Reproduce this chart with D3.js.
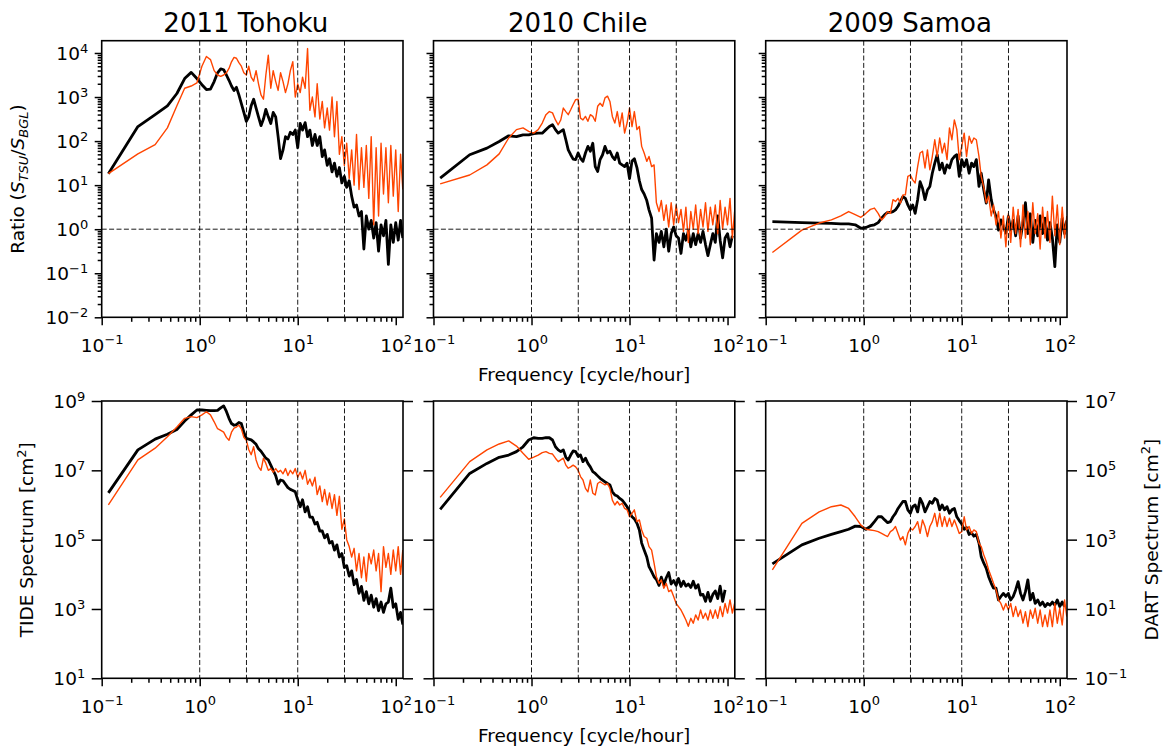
<!DOCTYPE html>
<html>
<head>
<meta charset="utf-8">
<script src="https://cdn.jsdelivr.net/npm/d3@7"></script>
<style>
  body { margin: 0; background: #fff; }
  svg { display: block; font-family: "DejaVu Sans", sans-serif; }
</style>
</head>
<body>
<svg id="fig" width="1164" height="749"></svg>
<script>
// frequency bins [cycle/hour]
const freq = [0.117, 0.234, 0.351, 0.468, 0.585, 0.702, 0.819, 0.936, 1.053, 1.17, 1.287, 1.404, 1.521, 1.638, 1.755, 1.872, 1.989,
  2.11, 2.24, 2.37, 2.51, 2.66, 2.82, 2.99, 3.16, 3.35, 3.55, 3.76, 3.98, 4.22, 4.47, 4.73, 5.01, 5.31, 5.62, 5.96, 6.31,
  6.68, 7.08, 7.50, 7.94, 8.41, 8.91, 9.44, 10.0, 10.6, 11.2, 11.9, 12.6, 13.3, 14.1, 15.0, 15.8, 16.8, 17.8, 18.8, 20.0, 21.1, 22.4, 23.7, 25.1, 26.6, 28.2, 29.9, 31.6, 33.5,
  35.5, 37.6, 39.8, 42.2, 44.7, 47.3, 50.1, 53.1, 56.2, 59.6, 63.1, 66.8, 70.8, 75.0, 79.4, 84.1, 89.1, 94.4, 100, 106, 112, 118];

const events = ['2011 Tohoku', '2010 Chile', '2009 Samoa'];
const guideFreq = [1, 3, 10, 30];
const xTicks = [0.1, 1, 10, 100];
const ratioTicks = [1e-2, 1e-1, 1e0, 1e1, 1e2, 1e3, 1e4];
const tideTicks = [1e1, 1e3, 1e5, 1e7, 1e9];
const dartTicks = [1e-1, 1e1, 1e3, 1e5, 1e7];

// all series below are log10 values, one per freq bin
// black = tide gauge, orange = DART
const tohokuTideRatio = [1.26, 2.33, 2.6, 2.8, 3.08, 3.42, 3.56, 3.42, 3.28, 3.17, 3.18, 3.35, 3.55, 3.64, 3.62, 3.5, 3.38,
  3.25, 3.15, 3.22, 3.05, 2.85, 2.65, 2.45, 2.55, 2.8, 2.95, 2.75, 2.55, 2.35, 2.5, 2.72, 2.55, 2.4, 2.65, 2.55, 2.1,
  1.6, 1.8, 2.1, 2.05, 2.2, 2.15, 2.25, 1.85, 2.4, 2.25, 2.42, 2.1, 2.25, 1.9, 2.15, 1.9, 2.1, 1.65, 1.8, 1.45, 1.6, 1.3, 1.5, 1.2, 1.4, 1.05, 1.2, 0.95, 1.1,
  0.75, 0.5, 0.55, 0.3, 0.4, -0.45, 0.3, 0.0, 0.2, -0.2, 0.15, -0.5, 0.1, -0.15, 0.2, -0.8, 0.1, -0.3, 0.15, -0.25, 0.2, -0.2];
const tohokuDartRatio = [1.26, 1.71, 1.92, 2.3, 2.8, 3.2, 3.25, 3.32, 3.7, 3.92, 3.85, 3.6, 3.5, 3.47, 3.5, 3.55, 3.65,
  3.8, 3.9, 3.88, 3.78, 3.7, 3.55, 3.5, 3.7, 3.45, 3.36, 3.6, 3.3, 3.05, 2.95, 3.5, 3.95, 3.2, 3.6, 3.35, 3.15,
  3.55, 3.35, 3.1, 3.3, 3.6, 3.8, 3.0, 3.3, 3.1, 3.45, 3.2, 4.1, 2.7, 3.0, 2.55, 3.3, 2.5, 2.9, 2.3, 2.75, 2.25, 3.0, 2.1, 2.9, 1.7, 2.1, 1.45, 1.95, 1.15,
  1.8, 1.0, 2.15, 0.9, 1.85, 0.95, 1.9, 0.7, 2.1, 0.1, 1.85, 0.3, 1.95, 0.8, 1.85, 0.6, 1.9, 0.75, 1.8, 0.4, 1.7, 0.9];

const chileTideRatio = [1.16, 1.69, 1.84, 1.99, 2.12, 2.1, 2.14, 2.14, 2.17, 2.18, 2.18, 2.26, 2.33, 2.37, 2.26, 2.18, 2.22,
  2.26, 2.03, 1.8, 1.69, 1.59, 1.58, 1.73, 1.61, 1.54, 1.73, 1.88, 1.77, 1.95, 1.42, 1.31, 1.58, 1.69, 1.88, 1.73, 1.77,
  1.65, 1.58, 1.73, 1.5, 1.46, 1.42, 1.5, 1.15, 1.55, 1.6, 1.4, 1.1, 0.9, 0.8, 0.65, 0.44, 0.25, -0.7, -0.1, -0.3, -0.05, -0.4, 0.0, -0.5, -0.1, 0.05, -0.15, -0.2, -0.55,
  -0.1, -0.25, -0.05, -0.4, -0.1, -0.35, -0.1, -0.3, -0.05, -0.35, -0.6, -0.35, -0.1, -0.3, 0.3, -0.25, -0.65, -0.2, -0.1, -0.4, -0.15, null];
const chileDartRatio = [1.03, 1.23, 1.46, 1.71, 2.07, 2.26, 2.3, 2.22, 2.18, 2.26, 2.41, 2.6, 2.67, 2.64, 2.48, 2.37, 2.48,
  2.75, 2.67, 2.6, 2.71, 2.83, 2.94, 2.95, 2.52, 2.48, 2.56, 2.45, 2.6, 2.56, 2.45, 2.79, 2.86, 2.79, 2.98, 3.02, 2.9,
  2.56, 2.41, 2.67, 2.33, 2.64, 2.18, 2.41, 2.75, 2.33, 2.67, 2.26, 2.33, 1.88, 1.73, 1.54, 1.65, 1.42, 1.46, 0.6, 0.4, 0.65, 0.2, 0.55, 0.05, 0.6, 0.1, 0.55, 0.15, 0.45,
  -0.05, 0.5, -0.3, 0.4, 0.0, 0.55, -0.1, 0.45, 0.05, 0.6, -0.05, 0.5, 0.1, 0.55, -0.1, 0.65, 0.0, 0.5, 0.1, 0.7, -0.2, 0.4];

const samoaTideRatio = [0.17, 0.15, 0.14, 0.13, 0.12, 0.12, 0.1, 0.02, 0.04, 0.08, 0.1, 0.15, 0.25, 0.33, 0.38, 0.38, 0.4,
  0.44, 0.52, 0.63, 0.74, 0.7, 0.55, 0.44, 0.55, 0.36, 0.67, 1.08, 0.93, 0.67, 0.89, 0.97, 1.27, 1.5, 1.69, 1.35, 1.5,
  1.27, 1.46, 1.39, 1.58, 1.65, 1.69, 1.2, 1.58, 1.42, 1.58, 1.27, 1.5, 1.42, 1.58, 0.97, 1.27, 0.89, 0.59, 1.12, 0.67, 0.44, 0.29, -0.02, 0.21, 0.06, -0.09, 0.29, -0.02, 0.2,
  -0.15, 0.3, -0.2, 0.15, 0.6, -0.1, 0.35, -0.3, 0.2, -0.15, 0.3, -0.1, 0.25, -0.25, 0.15, -0.2, -0.85, 0.1, -0.3, 0.25, -0.1, 0.2];
const samoaDartRatio = [-0.53, -0.02, 0.14, 0.21, 0.3, 0.4, 0.33, 0.27, 0.36, 0.45, 0.48, 0.36, 0.21, 0.29, 0.4, 0.36, 0.67,
  0.63, 0.7, 0.59, 0.78, 0.78, 1.2, 1.23, 1.12, 1.05, 1.42, 1.73, 1.77, 1.39, 1.8, 1.35, 1.65, 2.03, 1.65, 2.07, 1.73,
  1.95, 1.58, 2.3, 2.03, 2.48, 2.26, 1.58, 1.88, 2.18, 1.65, 2.11, 1.95, 2.07, 2.03, 1.65, 1.2, 0.95, 0.6, 0.75, 0.3, 0.55, 0.1, 0.4, -0.2, 0.3, -0.4, 0.35, -0.3, 0.5,
  -0.1, 0.45, -0.4, 0.55, -0.2, 0.4, -0.35, 0.6, -0.1, 0.35, -0.45, 0.5, -0.2, 0.4, -0.3, 0.75, -0.15, 0.55, -0.35, 0.5, -0.2, 0.3];

// spectra [cm^2]: tide on the left axis, DART on the right axis
const tohokuTideSpec = [6.35, 7.59, 7.9, 8.04, 8.18, 8.42, 8.6, 8.74, 8.74, 8.73, 8.72, 8.72, 8.73, 8.8, 8.86, 8.7, 8.5,
  8.35, 8.3, 8.32, 8.38, 8.35, 8.1, 7.92, 7.9, 7.88, 7.82, 7.75, 7.62, 7.55, 7.45, 7.35, 7.3, 7.15, 7.0, 6.85, 6.6,
  6.72, 6.7, 6.6, 6.5, 6.45, 6.42, 6.38, 6.15, 5.95, 6.15, 5.8, 5.95, 5.65, 5.65, 5.45, 5.5, 5.25, 5.25, 5.05, 5.15, 4.9, 4.95, 4.7, 4.85, 4.5, 4.6, 4.2, 4.25, 3.95,
  4.1, 3.7, 3.85, 3.45, 3.65, 3.25, 3.5, 3.15, 3.4, 3.05, 3.3, 2.95, 3.2, 2.9, 3.15, 3.2, 3.6, 3.05, 3.15, 2.7, 2.9, 2.55];
const tohokuDartSpec = [4.0, 5.3, 5.64, 5.97, 6.25, 6.5, 6.55, 6.52, 6.6, 6.69, 6.6, 6.4, 6.2, 6.15, 6.1, 5.95, 5.87,
  6.1, 6.22, 6.25, 6.3, 6.2, 5.95, 5.87, 5.6, 5.45, 5.68, 5.3, 5.1, 5.0, 5.35, 5.2, 5.0, 5.05, 4.95, 5.05, 4.95,
  5.0, 4.9, 5.05, 4.85, 5.0, 4.9, 5.05, 4.8, 4.95, 4.75, 5.0, 4.6, 4.75, 4.55, 4.8, 4.3, 4.55, 4.1, 4.45, 4.0, 4.35, 3.9, 4.3, 3.7, 4.25, 3.3, 3.6, 3.0, 2.8,
  2.5, 2.75, 2.1, 2.6, 1.9, 2.5, 1.8, 2.6, 2.3, 2.7, 2.1, 2.6, 1.5, 2.8, 2.2, 2.6, 2.0, 2.7, 2.1, 2.8, 2.0, 2.7];

const chileTideSpec = [5.875, 6.91, 7.2, 7.375, 7.44, 7.54, 7.68, 7.875, 7.94, 7.92, 7.92, 7.94, 7.94, 7.875, 7.68, 7.59, 7.54,
  7.59, 7.375, 7.3, 7.44, 7.56, 7.54, 7.4, 7.44, 7.25, 7.35, 7.2, 7.1, 6.96, 6.91, 6.84, 6.77, 6.72, 6.67, 6.62, 6.58,
  6.38, 6.29, 6.26, 6.19, 6.14, 6.05, 5.95, 5.8, 5.66, 5.6, 5.47, 5.28, 4.9, 4.7, 4.5, 4.22, 4.08, 3.93, 3.85, 3.68, 3.92, 3.7, 3.9, 4.05, 3.72, 3.82, 3.68, 3.88, 3.65,
  3.8, 3.66, 3.72, 3.62, 3.8, 3.6, 3.7, 3.4, 3.42, 3.22, 3.48, 3.22, 3.42, 3.52, 3.3, 3.66, 3.22, 3.55, null, null, null, null];
const chileDartSpec = [4.22, 5.25, 5.59, 5.76, 5.85, 5.7, 5.49, 5.32, 5.38, 5.44, 5.51, 5.54, 5.49, 5.47, 5.35, 5.25, 5.3,
  5.35, 5.15, 5.06, 5.1, 5.15, 5.1, 5.0, 4.82, 4.72, 4.48, 4.38, 4.72, 4.34, 4.29, 4.62, 4.67, 4.62, 4.58, 4.62, 4.48,
  4.14, 4.0, 4.1, 4.0, 4.05, 3.9, 3.86, 3.66, 3.76, 3.86, 3.52, 3.57, 3.28, 3.09, 3.04, 2.8, 2.7, 2.32, 1.93, 1.74, 1.84, 1.6, 1.74, 1.5, 1.55, 1.36, 1.16, 1.07, 0.97,
  0.83, 0.68, 0.5, 0.73, 0.59, 0.83, 0.68, 0.97, 0.73, 0.88, 0.68, 0.97, 0.73, 0.97, 0.73, 1.07, 0.78, 1.16, 0.88, 1.26, 0.88, 1.16];

const samoaTideSpec = [4.3, 4.85, 5.04, 5.15, 5.23, 5.3, 5.39, 5.38, 5.3, 5.38, 5.52, 5.66, 5.66, 5.57, 5.49, 5.52, 5.66,
  5.76, 5.9, 6.0, 6.1, 6.1, 5.86, 5.76, 5.95, 6.0, 5.8, 6.19, 6.05, 5.8, 5.95, 6.1, 6.05, 6.19, 6.14, 5.86, 6.0,
  5.86, 5.95, 5.76, 5.86, 5.9, 5.66, 5.55, 5.45, 5.3, 5.35, 5.15, 5.2, 5.1, 5.15, 4.9, 4.51, 4.32, 4.17, 3.93, 3.74, 3.6, 3.6, 3.26, 3.36, 3.45, 3.36, 3.45, 3.26, 3.36,
  3.55, 3.79, 3.45, 3.26, 3.5, 3.84, 3.26, 3.45, 3.16, 3.26, 3.11, 3.2, 3.07, 3.16, 3.11, 3.2, 3.11, 3.26, 3.07, 3.2, 3.07, null];
const samoaDartSpec = [2.13, 3.47, 3.8, 3.95, 4.0, 3.9, 3.66, 3.42, 3.3, 3.28, 3.26, 3.23, 3.18, 3.13, 3.09, 3.23, 3.28,
  3.38, 3.18, 2.99, 3.09, 2.85, 3.18, 3.33, 3.28, 3.38, 3.52, 3.18, 3.57, 3.38, 3.09, 3.38, 3.52, 3.76, 3.38, 3.76, 3.38,
  3.66, 3.38, 3.62, 3.38, 3.57, 3.38, 3.18, 3.23, 3.66, 3.28, 3.38, 3.18, 3.28, 3.23, 2.9, 2.8, 2.56, 2.37, 2.13, 1.93, 1.74, 1.55, 1.26, 1.16, 0.97, 1.16, 0.97, 1.16, 0.78,
  1.07, 0.78, 0.97, 0.59, 0.92, 0.49, 0.97, 0.73, 1.02, 0.59, 0.97, 0.49, 0.83, 0.49, 0.97, 0.49, 1.16, 0.59, 1.02, 0.54, 1.26, 0.78];

const TIDE_COLOR = '#000000';
const DART_COLOR = '#ff4500';
const FONT = 18.5;

function toPoints(arr) {
  return freq.map((f, i) => ({ f: f, v: arr[i] == null ? null : Math.pow(10, arr[i]) }));
}

// "10" with a raised exponent, like matplotlib's log formatter
function powerLabel(text) {
  text.each(function(d) {
    const e = Math.round(Math.log10(d));
    const t = d3.select(this).text('10');
    t.append('tspan')
      .attr('dy', -7.5)
      .attr('font-size', 13)
      .text(String(e).replace('-', '\u2212'));
  });
}

function minorTicks(lo, hi, max) {
  let out = [];
  for (let k = lo; k <= hi; k++)
    for (let m = 2; m <= 9; m++) {
      const v = m * Math.pow(10, k);
      if (v <= max) out.push(v);
    }
  return out;
}

class SpectrumPanel {
  constructor(config, tide, dart) {
    this.config = {
      parent: config.parent,
      id: config.id,
      left: config.left,
      top: config.top,
      width: config.width || 301.3,
      height: config.height || 277,
      title: config.title || null,
      ydomain: config.ydomain,
      yticks: config.yticks,
      yminor: config.yminor || [],
      ytickSize: config.ytickSize || 7,
      ylabels: config.ylabels || false,
      y2domain: config.y2domain || null,
      y2ticks: config.y2ticks || [],
      y2labels: config.y2labels || false,
      hline: config.hline || null,
    };
    this.tide = toPoints(tide);
    this.dart = toPoints(dart);
    this.init();
  }

  init() {
    let self = this;
    const c = self.config;
    self.chart = c.parent.append('g')
      .attr('transform', `translate(${c.left}, ${c.top})`);
    self.xscale = d3.scaleLog().domain([0.1, 118.6]).range([0, c.width]);
    self.yscale = d3.scaleLog().domain(c.ydomain).range([c.height, 0]);
    self.y2scale = c.y2domain ? d3.scaleLog().domain(c.y2domain).range([c.height, 0]) : self.yscale;
    self.chart.append('clipPath')
      .attr('id', `clip-${c.id}`)
      .append('rect')
      .attr('width', c.width)
      .attr('height', c.height);
    self.render();
  }

  render() {
    let self = this;
    const c = self.config;
    const plot = self.chart.append('g').attr('clip-path', `url(#clip-${c.id})`);

    const tideLine = d3.line()
      .defined(d => d.v != null)
      .x(d => self.xscale(d.f))
      .y(d => self.yscale(d.v));
    const dartLine = d3.line()
      .defined(d => d.v != null)
      .x(d => self.xscale(d.f))
      .y(d => self.y2scale(d.v));

    plot.append('path')
      .datum(self.tide)
      .attr('d', tideLine)
      .attr('fill', 'none')
      .attr('stroke', TIDE_COLOR)
      .attr('stroke-width', 2.8)
      .attr('stroke-linejoin', 'round');
    plot.append('path')
      .datum(self.dart)
      .attr('d', dartLine)
      .attr('fill', 'none')
      .attr('stroke', DART_COLOR)
      .attr('stroke-width', 1.4)
      .attr('stroke-linejoin', 'round');

    // dashed guides
    plot.selectAll('.vguide')
      .data(guideFreq)
      .join('line')
      .attr('x1', d => self.xscale(d))
      .attr('x2', d => self.xscale(d))
      .attr('y1', 0)
      .attr('y2', c.height)
      .attr('stroke', '#000')
      .attr('stroke-width', 0.9)
      .attr('stroke-dasharray', '5,2.4');
    if (c.hline) {
      plot.append('line')
        .attr('x1', 0)
        .attr('x2', c.width)
        .attr('y1', self.yscale(c.hline))
        .attr('y2', self.yscale(c.hline))
        .attr('stroke', '#000')
        .attr('stroke-width', 0.9)
        .attr('stroke-dasharray', '5,2.4');
    }

    // x axis
    const xg = self.chart.append('g').attr('transform', `translate(0, ${c.height})`);
    xg.append('g').call(d3.axisBottom(self.xscale).tickValues(minorTicks(-1, 1, 118)).tickSize(4.5).tickFormat(''));
    xg.append('g').call(d3.axisBottom(self.xscale).tickValues(xTicks).tickSize(8).tickFormat(d => d))
      .call(g => g.selectAll('.tick text')
        .attr('y', 34.5)
        .attr('dy', null)
        .call(powerLabel));
    self.styleAxis(xg);

    // left y axis
    const yg = self.chart.append('g');
    if (c.yminor.length) {
      yg.append('g').call(d3.axisLeft(self.yscale).tickValues(c.yminor).tickSize(4).tickFormat(''));
    }
    yg.append('g').call(d3.axisLeft(self.yscale).tickValues(c.yticks).tickSize(c.ytickSize).tickFormat(d => d))
      .call(g => g.selectAll('.tick text')
        .attr('x', -(c.ytickSize + 6.5))
        .attr('dy', null)
        .attr('y', 6.6)
        .call(powerLabel));
    if (!c.ylabels) yg.selectAll('.tick text').remove();
    self.styleAxis(yg);

    // right y axis
    if (c.y2domain) {
      const y2g = self.chart.append('g').attr('transform', `translate(${c.width}, 0)`);
      y2g.append('g').call(d3.axisRight(self.y2scale).tickValues(c.y2ticks).tickSize(c.ytickSize).tickFormat(d => d))
        .call(g => g.selectAll('.tick text')
          .attr('x', c.ytickSize + 7.5)
          .attr('dy', null)
          .attr('y', 6.6)
          .call(powerLabel));
      if (!c.y2labels) y2g.selectAll('.tick text').remove();
      self.styleAxis(y2g);
    }

    // frame
    self.chart.append('rect')
      .attr('width', c.width)
      .attr('height', c.height)
      .attr('fill', 'none')
      .attr('stroke', '#000')
      .attr('stroke-width', 1.6);

    if (c.title) {
      self.chart.append('text')
        .attr('x', c.width / 2 - 6.5)
        .attr('y', -8.4)
        .attr('text-anchor', 'middle')
        .attr('font-size', 26)
        .attr('fill', '#000')
        .text(c.title);
    }
  }

  styleAxis(g) {
    g.selectAll('.domain').remove();
    g.selectAll('.tick line').attr('stroke', '#000').attr('stroke-width', 1.5);
    g.selectAll('g[font-size]').attr('font-size', null).attr('font-family', null);
    g.selectAll('.tick text').attr('fill', '#000').attr('font-size', FONT);
  }
}

const svg = d3.select('#fig');
const panelLeft = [101.7, 433.5, 765.7];
const panelTop = [40.7, 401];

const ratioSeries = [[tohokuTideRatio, tohokuDartRatio], [chileTideRatio, chileDartRatio], [samoaTideRatio, samoaDartRatio]];
const specSeries = [[tohokuTideSpec, tohokuDartSpec], [chileTideSpec, chileDartSpec], [samoaTideSpec, samoaDartSpec]];

events.forEach((name, i) => {
  new SpectrumPanel({
    parent: svg, id: `r${i}`,
    left: panelLeft[i], top: panelTop[0], height: 276.6,
    title: name,
    ydomain: [1e-2, 1.9e4], yticks: ratioTicks, yminor: minorTicks(-2, 3, 1.9e4),
    ytickSize: 7, ylabels: i === 0,
    hline: 1,
  }, ratioSeries[i][0], ratioSeries[i][1]);

  new SpectrumPanel({
    parent: svg, id: `s${i}`,
    left: panelLeft[i], top: panelTop[1], height: 277.3,
    ydomain: [1e1, 1e9], yticks: tideTicks,
    ytickSize: 10, ylabels: i === 0,
    y2domain: [1e-1, 1e7], y2ticks: dartTicks, y2labels: i === 2,
  }, specSeries[i][0], specSeries[i][1]);
});

// axis titles
const xlabelX = panelLeft[1] + 301.3 / 2;
[380.5, 742].forEach(y => {
  svg.append('text')
    .attr('x', xlabelX)
    .attr('y', y)
    .attr('text-anchor', 'middle')
    .attr('font-size', FONT)
    .text('Frequency [cycle/hour]');
});

const ratioLabel = svg.append('text')
  .attr('transform', 'translate(24, 179) rotate(-90)')
  .attr('text-anchor', 'middle')
  .attr('font-size', FONT);
ratioLabel.append('tspan').text('Ratio (');
ratioLabel.append('tspan').attr('font-style', 'italic').text('S');
ratioLabel.append('tspan').attr('font-style', 'italic').attr('font-size', 13).attr('dy', 4).text('TSU');
ratioLabel.append('tspan').attr('dy', -4).text('/');
ratioLabel.append('tspan').attr('font-style', 'italic').text('S');
ratioLabel.append('tspan').attr('font-style', 'italic').attr('font-size', 13).attr('dy', 4).text('BGL');
ratioLabel.append('tspan').attr('dy', -4).text(')');

function spectrumLabel(x, name) {
  const t = svg.append('text')
    .attr('transform', `translate(${x}, 539.7) rotate(-90)`)
    .attr('text-anchor', 'middle')
    .attr('font-size', FONT);
  t.append('tspan').text(`${name} Spectrum [cm`);
  t.append('tspan').attr('font-size', 13).attr('dy', -7.5).text('2');
  t.append('tspan').attr('dy', 7.5).text(']');
}
spectrumLabel(33, 'TIDE');
spectrumLabel(1157.5, 'DART');
</script>
</body>
</html>
